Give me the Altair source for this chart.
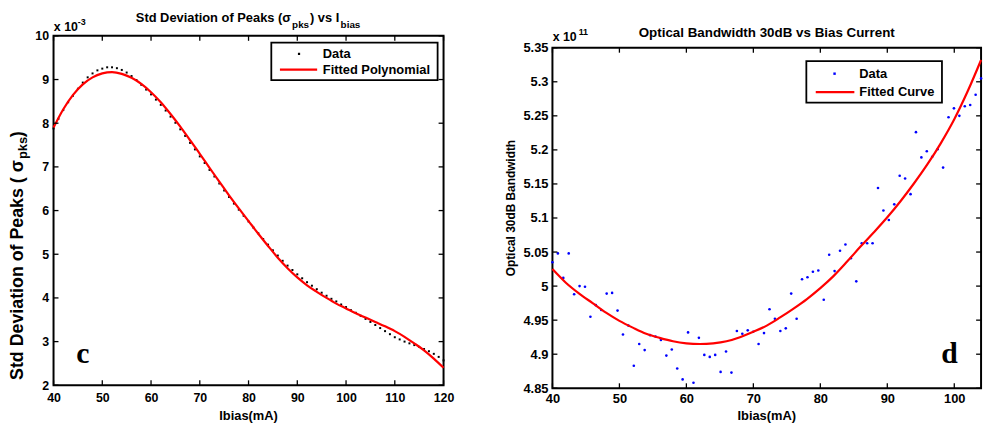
import altair as alt
import pandas as pd

# ---------------- Panel c: Std deviation of peaks (x 1e-3) ----------------
c_x = list(range(40, 121))
c_data = [7.88, 8.10, 8.30, 8.48, 8.63, 8.79, 8.93, 9.05, 9.14, 9.21,
          9.25, 9.28, 9.28, 9.26, 9.22, 9.16, 9.08, 8.99, 8.88, 8.77,
          8.66, 8.54, 8.42, 8.29, 8.15, 8.01, 7.86, 7.71, 7.55, 7.40,
          7.24, 7.09, 6.93, 6.78, 6.62, 6.46, 6.31, 6.16, 6.02, 5.88,
          5.75, 5.61, 5.48, 5.35, 5.22, 5.09, 4.97, 4.85, 4.74, 4.64,
          4.54, 4.45, 4.36, 4.28, 4.20, 4.12, 4.05, 3.98, 3.92, 3.85,
          3.79, 3.72, 3.66, 3.59, 3.52, 3.45, 3.38, 3.31, 3.24, 3.17,
          3.10, 3.05, 3.00, 2.96, 2.92, 2.88, 2.83, 2.78, 2.72, 2.65,
          2.57]
c_fit_x = list(range(40, 121, 2))
c_fit = [7.90, 8.32, 8.65, 8.89, 9.05, 9.14, 9.17, 9.13, 9.04, 8.90,
         8.71, 8.48, 8.21, 7.92, 7.61, 7.30, 6.98, 6.66, 6.35, 6.05,
         5.76, 5.47, 5.19, 4.92, 4.68, 4.47, 4.29, 4.14, 4.00, 3.87,
         3.76, 3.65, 3.55, 3.45, 3.35, 3.24, 3.11, 2.96, 2.80, 2.61,
         2.40]
c_xticks = [40, 50, 60, 70, 80, 90, 100, 110, 120]
c_yticks = [2, 3, 4, 5, 6, 7, 8, 9, 10]

# ---------------- Panel d: Optical 30dB bandwidth (x 1e11) ----------------
d_x = [40.00, 40.81, 41.62, 42.43, 43.24, 44.05, 44.86, 45.67, 46.48, 47.29,
       48.10, 48.91, 49.72, 50.53, 51.34, 52.15, 52.96, 53.77, 54.58, 55.39,
       56.20, 57.01, 57.82, 58.63, 59.44, 60.25, 61.06, 61.87, 62.68, 63.49,
       64.30, 65.11, 65.92, 66.73, 67.54, 68.35, 69.16, 69.97, 70.78, 71.59,
       72.41, 73.22, 74.03, 74.84, 75.65, 76.46, 77.27, 78.08, 78.89, 79.70,
       80.51, 81.32, 82.13, 82.94, 83.75, 84.56, 85.37, 86.18, 86.99, 87.80,
       88.61, 89.42, 90.23, 91.04, 91.85, 92.66, 93.47, 94.28, 95.09, 95.90,
       96.71, 97.52, 98.33, 99.14, 99.95, 100.76, 101.57, 102.38, 103.19, 104.00]
d_data = [5.035, 5.048, 5.012, 5.048, 4.988, 5.000, 4.999, 4.955, 4.972, 4.965,
          4.989, 4.990, 4.964, 4.929, 4.942, 4.883, 4.915, 4.906, 4.928, 4.926,
          4.921, 4.898, 4.907, 4.879, 4.863, 4.932, 4.858, 4.924, 4.899, 4.896,
          4.899, 4.874, 4.904, 4.873, 4.934, 4.930, 4.935, 4.933, 4.915, 4.931,
          4.966, 4.952, 4.934, 4.938, 4.989, 4.952, 5.010, 5.013, 5.021, 5.023,
          4.980, 5.046, 5.022, 5.052, 5.061, 5.041, 5.007, 5.063, 5.063, 5.063,
          5.144, 5.111, 5.097, 5.120, 5.162, 5.158, 5.135, 5.226, 5.189, 5.198,
          5.190, 5.201, 5.174, 5.248, 5.261, 5.250, 5.264, 5.266, 5.281, 5.305]
d_fit_x = list(range(40, 105, 2))
d_fit = [5.025, 5.005, 4.989, 4.975, 4.961, 4.949, 4.939, 4.930, 4.924, 4.919,
         4.916, 4.915, 4.916, 4.919, 4.925, 4.933, 4.942, 4.954, 4.967, 4.981,
         4.997, 5.015, 5.036, 5.058, 5.079, 5.101, 5.125, 5.151, 5.179, 5.210,
         5.245, 5.286, 5.332]
d_xticks = [40, 50, 60, 70, 80, 90, 100]
d_yticks = [4.85, 4.9, 4.95, 5.0, 5.05, 5.1, 5.15, 5.2, 5.25, 5.3, 5.35]

SANS = "Liberation Sans"
SERIF = "Liberation Serif"
ONE = pd.DataFrame({"k": [0]})


def txt(s, x, y, size, align="left", baseline="alphabetic", angle=0,
        font=SANS, weight="bold"):
    return alt.Chart(ONE).mark_text(
        text=s, align=align, baseline=baseline, angle=angle, font=font,
        fontSize=size, fontWeight=weight, color="black"
    ).encode(x=alt.value(x), y=alt.value(y))


def panel(xs, ys, fx, fy, xticks, yticks, xdom, ydom, W, H, dot_mark,
          ylab_fmt, lab_size, xpad, ypad):
    xax = alt.Axis(values=xticks, title=None, ticks=False, domain=False,
                   grid=False, labelFont=SANS, labelFontSize=lab_size,
                   labelFontWeight="bold", labelColor="black",
                   labelPadding=xpad, labelFlush=False, labelOverlap=False)
    yax = alt.Axis(values=yticks, title=None, ticks=False, domain=False,
                   grid=False, labelFont=SANS, labelFontSize=lab_size,
                   labelFontWeight="bold", labelColor="black",
                   labelPadding=ypad, labelFlush=False, labelOverlap=False,
                   format=ylab_fmt)
    xs_ = alt.Scale(domain=xdom, nice=False, zero=False)
    ys_ = alt.Scale(domain=ydom, nice=False, zero=False)
    X = lambda f: alt.X(f, type="quantitative", scale=xs_, axis=xax)
    Y = lambda f: alt.Y(f, type="quantitative", scale=ys_, axis=yax)

    pts = alt.Chart(pd.DataFrame({"x": xs, "v": ys})).mark_point(**dot_mark).encode(
        x=X("x"), y=Y("v"))
    fit = alt.Chart(pd.DataFrame({"x": fx, "v": fy})).mark_line(
        color="#ff0000", strokeWidth=2.2, interpolate="monotone").encode(
        x=X("x"), y=Y("v"))
    tx = pd.DataFrame({"x": xticks})
    ty = pd.DataFrame({"v": yticks})
    tb = alt.Chart(tx).mark_rule(color="black", strokeWidth=1.3).encode(
        x=X("x"), y=alt.value(H), y2=alt.value(H - 5))
    tt = alt.Chart(tx).mark_rule(color="black", strokeWidth=1.3).encode(
        x=X("x"), y=alt.value(0), y2=alt.value(5))
    tl = alt.Chart(ty).mark_rule(color="black", strokeWidth=1.3).encode(
        y=Y("v"), x=alt.value(0), x2=alt.value(5))
    tr = alt.Chart(ty).mark_rule(color="black", strokeWidth=1.3).encode(
        y=Y("v"), x=alt.value(W - 5), x2=alt.value(W))
    return [pts, fit, tb, tt, tl, tr]


def legend(bx1, bx2, by1, by2, dot_x, y1, lx1, lx2, y2, text_x, lab1, lab2,
           dot_color, dot_size):
    box = alt.Chart(ONE).mark_rect(fill="white", stroke="black", strokeWidth=1.8).encode(
        x=alt.value(bx1), x2=alt.value(bx2), y=alt.value(by1), y2=alt.value(by2))
    dot = alt.Chart(ONE).mark_point(shape="square", filled=True, size=dot_size,
                                    color=dot_color, opacity=1).encode(
        x=alt.value(dot_x), y=alt.value(y1))
    line = alt.Chart(ONE).mark_rule(color="#ff0000", strokeWidth=2.2).encode(
        x=alt.value(lx1), x2=alt.value(lx2), y=alt.value(y2))
    t1 = txt(lab1, text_x, y1, 13, baseline="middle")
    t2 = txt(lab2, text_x, y2, 13, baseline="middle")
    return [box, dot, line, t1, t2]


# ---------------- left panel ----------------
LW, LH = 394, 353
left_layers = panel(c_x, c_data, c_fit_x, c_fit, c_xticks, c_yticks,
                    [40, 120], [2, 10], LW, LH,
                    dict(shape="square", filled=True, size=4, color="black", opacity=1),
                    "d", 12.5, 6, 5)
left_layers += legend(220, 388, 6.8, 44.8, 248, 18.2, 228.7, 266.3, 34.2, 272,
                      "Data", "Fitted Polynomial", "black", 5)
left_layers += [
    txt("Std Deviation of Peaks (σ", 240, -14.2, 13, align="right"),
    txt("pks", 241, -8.4, 10),
    txt(") vs I", 259, -14.2, 13),
    txt("bias", 290, -8.4, 10),
    txt("x 10", 0.3, -5.2, 12.5),
    txt("-3", 24.5, -11, 9),
    txt("Std Deviation of Peaks ( σ", -36, 125.5, 18, align="right", baseline="middle", angle=270),
    txt("pks", -30.5, 124.5, 13, align="left", baseline="middle", angle=270),
    txt(" )", -36, 102.5, 18, align="left", baseline="middle", angle=270),
    txt("Ibias(mA)", LW / 2, LH + 31, 13, align="center", baseline="middle"),
    txt("c", 29.5, 330.8, 30, align="center", font=SERIF),
]
left = alt.layer(*left_layers).properties(width=LW, height=LH)

# ---------------- right panel ----------------
RW, RH = 433, 344
right_layers = panel(d_x, d_data, d_fit_x, d_fit, d_xticks, d_yticks,
                     [40, 104], [4.85, 5.35], RW, RH,
                     dict(shape="circle", filled=True, size=7, color="#0000ff", opacity=1),
                     ".2~f", 13, 4, 4.5)
right_layers += legend(256.5, 393.5, 13.5, 55.5, 285, 26.2, 266, 305, 44.8, 310,
                       "Data", "Fitted Curve", "#0000ff", 6)
right_layers += [
    txt("Optical Bandwidth 30dB vs Bias Current", RW / 2, -11, 13.5, align="center"),
    txt("x 10", 0.2, -7.2, 12.5),
    txt("11", 26.5, -12.5, 9),
    txt("Optical 30dB Bandwidth", -41.5, 162, 12, align="center", baseline="middle", angle=270),
    txt("Ibias(mA)", RW / 2, RH + 28.4, 13, align="center", baseline="middle"),
    txt("d", 401, 318.8, 30, align="center", font=SERIF),
]
right = alt.layer(*right_layers).properties(width=RW, height=RH)

spacer = alt.Chart(ONE).mark_text(text="").encode(
    x=alt.value(0), y=alt.value(0)
).properties(width=RW, height=2, view=alt.ViewBackground(stroke=None))

right_col = alt.vconcat(spacer, right, spacing=10, bounds="flush")

chart = alt.hconcat(left, right_col, spacing=110, bounds="flush").properties(
    padding={"left": 0, "top": 0, "right": 0, "bottom": 0},
    background="white",
).configure_view(stroke="black", strokeWidth=2)

chart.save("out.html", embed_options={"renderer": "svg", "actions": False})
